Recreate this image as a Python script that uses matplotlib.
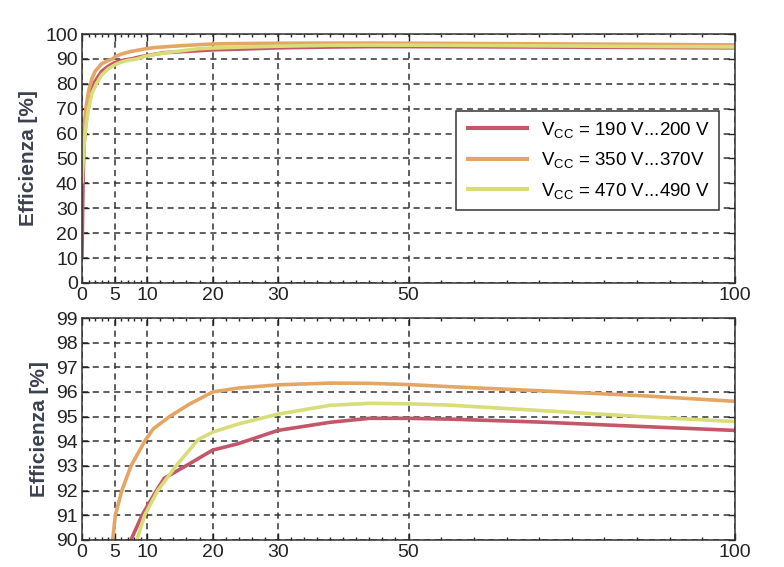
import numpy as np
import matplotlib
matplotlib.use("Agg")
import matplotlib.pyplot as plt

plt.rcParams['font.family'] = ['Liberation Sans', 'DejaVu Sans']
plt.rcParams['mathtext.fontset'] = 'custom'
plt.rcParams['mathtext.rm'] = 'Liberation Sans'
plt.rcParams['mathtext.it'] = 'Liberation Sans'

# data (power in % of nominal, efficiency in %)
x_200 = [0, 0.15, 0.3, 0.6, 1, 1.5, 2, 3, 4, 5, 6, 7.5, 9.2, 11.4, 12.6, 15.9, 20, 23.9, 30, 38, 44, 50, 56, 70, 85.6, 100]
eff_200 = [10, 40, 55, 65, 72, 78, 81, 85, 87, 88.5, 89.3, 90, 91, 92, 92.5, 93, 93.64, 93.9, 94.44, 94.77, 94.93, 94.93, 94.9, 94.78, 94.6, 94.44]

x_370 = [0, 0.3, 0.6, 1, 1.5, 2, 3, 4, 4.7, 5.1, 6.1, 7.5, 9.6, 10.9, 13.4, 16.4, 20, 23.9, 30, 38, 44, 50, 56, 70, 85.6, 100]
eff_370 = [50, 62, 70, 77, 82, 85, 88, 89.4, 90, 91, 92, 93, 94, 94.5, 95, 95.5, 96, 96.16, 96.29, 96.36, 96.35, 96.3, 96.22, 96.05, 95.85, 95.62]

x_490 = [0, 0.3, 0.6, 1, 1.5, 2.2, 3, 4, 5, 6, 7, 8.4, 9.6, 11.6, 14.4, 17.8, 20, 23.9, 30, 38, 44, 50, 56, 70, 85.6, 100]
eff_490 = [40, 55, 63, 70, 76, 80, 83.5, 86, 87.6, 88.7, 89.4, 90, 91, 92, 93, 94.07, 94.37, 94.7, 95.1, 95.46, 95.54, 95.52, 95.47, 95.25, 95.0, 94.8]

labels = [r'V$_{\mathrm{CC}}$ = 190 V...200 V',
          r'V$_{\mathrm{CC}}$ = 350 V...370V',
          r'V$_{\mathrm{CC}}$ = 470 V...490 V']
colors = ['#c4566a', '#e4a664', '#d8dd78']

xticks = [0, 5, 10, 20, 30, 50, 100]
xminor = [t for t in list(range(1, 10)) + list(range(12, 50, 2)) + list(range(55, 100, 5)) if t not in xticks]

fig = plt.figure(figsize=(7.84, 5.67), dpi=100)
ax1 = fig.add_axes([0.1046, 0.501, 0.833, 0.439])
ax2 = fig.add_axes([0.1046, 0.048, 0.833, 0.391])

series = [(x_200, eff_200), (x_370, eff_370), (x_490, eff_490)]
for ax in (ax1, ax2):
    for (xs, ys), c, lab in zip(series, colors, labels):
        ax.plot(xs, ys, color=c, lw=2.6, label=lab, solid_capstyle='butt')
    ax.set_xlim(0, 100)
    ax.set_xticks(xticks)
    ax.set_xticks(xminor, minor=True)
    ax.tick_params(which='both', direction='in', top=True, right=True,
                   labelsize=14, colors='#222222', width=1, pad=3)
    ax.tick_params(which='major', length=5)
    ax.tick_params(which='minor', length=2.5)
    ax.grid(True, which='major', color='#333333', lw=1.1, ls=(0, (4, 3)))
    ax.set_ylabel('Efficienza [%]', fontsize=15, fontweight='bold',
                  color='#3c4150', labelpad=5)
    for s in ax.spines.values():
        s.set_color('#333333')
        s.set_linewidth(1.1)

ax1.set_ylim(0, 100)
ax1.set_yticks(np.arange(0, 101, 10))
ax2.set_ylim(90, 99)
ax2.set_yticks(np.arange(90, 100, 1))

leg = ax1.legend(loc='upper right', bbox_to_anchor=(0.99, 0.73), fontsize=13.5,
                 handlelength=3.4, labelspacing=0.55, borderpad=0.5,
                 handletextpad=0.6, fancybox=False, framealpha=1,
                 edgecolor='#333333')
leg.get_frame().set_linewidth(1.1)
for line in leg.get_lines():
    line.set_linewidth(3)

fig.savefig('out.png', dpi=100)
